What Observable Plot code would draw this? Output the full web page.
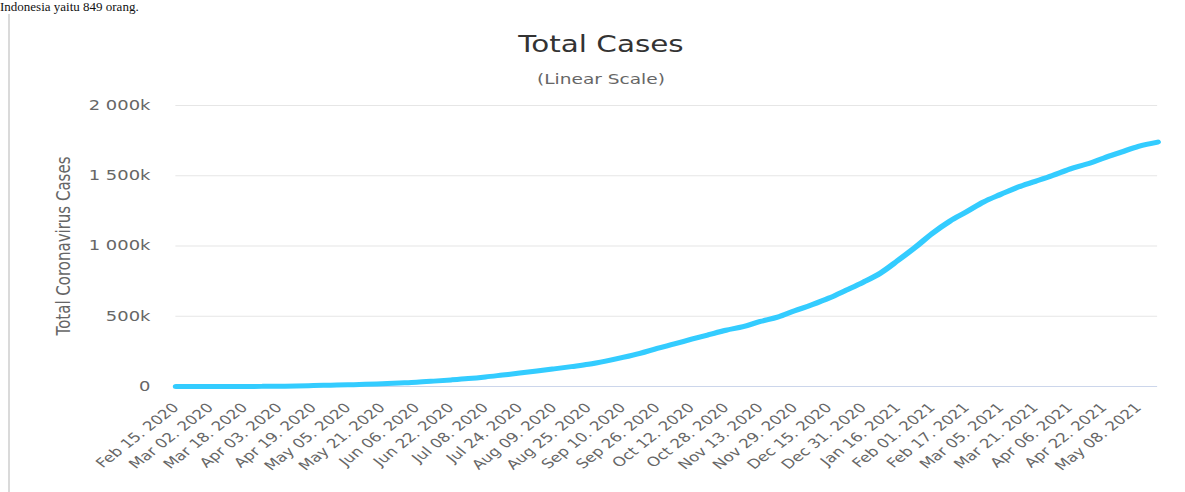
<!DOCTYPE html>
<html>
<head>
<meta charset="utf-8">
<script src="https://cdn.jsdelivr.net/npm/d3@7"></script>
<script src="https://cdn.jsdelivr.net/npm/@observablehq/plot@0.6"></script>
<style>
  html, body { margin: 0; padding: 0; background: #fff; overflow: hidden; }
  body { width: 1185px; height: 492px; position: relative; }
  #doc-text { position: absolute; left: 0px; top: 0px; font-family: "Liberation Serif", serif; font-size: 13px; line-height: 13px; color: #111; white-space: nowrap; }
  #doc-border { position: absolute; left: 8px; top: 14px; width: 2px; height: 478px; background: #dadada; }
  #chart { position: absolute; left: 0; top: 0; width: 926px; height: 492px; transform: scaleX(1.28); transform-origin: 0 0; }
</style>
</head>
<body>
<div id="doc-text">Indonesia yaitu 849 orang.</div>
<div id="doc-border"></div>
<div id="chart"></div>
<script>
// ---- data ----
const titleText = "Total Cases";
const subtitleText = "(Linear Scale)";
const yAxisTitle = "Total Coronavirus Cases";

const dates = [
  "2020-02-15","2020-03-02","2020-03-10","2020-03-18","2020-03-26","2020-04-03","2020-04-11","2020-04-19",
  "2020-04-27","2020-05-05","2020-05-13","2020-05-21","2020-05-29","2020-06-06","2020-06-14","2020-06-22",
  "2020-06-30","2020-07-08","2020-07-16","2020-07-24","2020-08-01","2020-08-09","2020-08-17","2020-08-25",
  "2020-09-02","2020-09-10","2020-09-18","2020-09-26","2020-10-04","2020-10-12","2020-10-20","2020-10-28",
  "2020-11-05","2020-11-13","2020-11-21","2020-11-29","2020-12-07","2020-12-15","2020-12-23","2020-12-31",
  "2021-01-08","2021-01-16","2021-01-24","2021-02-01","2021-02-09","2021-02-17","2021-02-25","2021-03-05",
  "2021-03-13","2021-03-21","2021-03-29","2021-04-06","2021-04-14","2021-04-22","2021-04-30","2021-05-08",
  "2021-05-17"
];
const totalCases = [
  0, 2, 19, 227, 893, 1986, 3842, 6575,
  9096, 12071, 15438, 20162, 25216, 30514, 38277, 46845,
  56385, 68079, 81668, 95418, 109936, 125396, 141370, 157859,
  180646, 207203, 236519, 271339, 303498, 336716, 368842, 400483,
  425796, 463007, 493308, 538883, 581550, 629429, 685639, 743198,
  808340, 896642, 989262, 1089308, 1174779, 1243646, 1314634, 1368069,
  1419455, 1460184, 1501835, 1547376, 1583182, 1626812, 1668368, 1709762,
  1739750
];

const xTickLabels = [
  "Feb 15. 2020","Mar 02. 2020","Mar 18. 2020","Apr 03. 2020","Apr 19. 2020","May 05. 2020",
  "May 21. 2020","Jun 06. 2020","Jun 22. 2020","Jul 08. 2020","Jul 24. 2020","Aug 09. 2020",
  "Aug 25. 2020","Sep 10. 2020","Sep 26. 2020","Oct 12. 2020","Oct 28. 2020","Nov 13. 2020",
  "Nov 29. 2020","Dec 15. 2020","Dec 31. 2020","Jan 16. 2021","Feb 01. 2021","Feb 17. 2021",
  "Mar 05. 2021","Mar 21. 2021","Apr 06. 2021","Apr 22. 2021","May 08. 2021"
];
const yTicks = [0, 500000, 1000000, 1500000, 2000000];
const yTickLabels = ["0", "500k", "1 000k", "1 500k", "2 000k"];

// ---- build ----
const parseISO = d3.utcParse("%Y-%m-%d");
const parseLabel = d3.utcParse("%b %d. %Y");
const rows = dates.map((d, i) => ({date: parseISO(d), cases: totalCases[i]}));
const xTickDates = xTickLabels.map(parseLabel);

const chart = Plot.plot({
  width: 926,
  height: 492,
  marginTop: 105,
  marginBottom: 106,
  marginLeft: 137,
  marginRight: 22,
  style: {fontFamily: "'DejaVu Sans', Verdana, sans-serif", background: "transparent", overflow: "visible"},
  x: {type: "utc", domain: [rows[0].date, rows[rows.length - 1].date], label: null},
  y: {domain: [0, 2000000], label: null},
  marks: [
    Plot.gridY(yTicks.slice(1), {stroke: "#e6e6e6", strokeOpacity: 1}),
    Plot.ruleY([0], {stroke: "#ccd6eb", strokeWidth: 1}),
    Plot.lineY(rows, {x: "date", y: "cases", stroke: "#33ccff", strokeWidth: 5, curve: "monotone-x", strokeLinejoin: "round", strokeLinecap: "round"}),
    Plot.axisX(xTickDates, {
      tickFormat: (d) => xTickLabels[xTickDates.findIndex(t => +t === +d)],
      tickRotate: -45, tickSize: 0, tickPadding: 19, fontSize: 13, fill: "#666", label: null
    }),
    Plot.axisY(yTicks, {
      tickFormat: (d) => yTickLabels[yTicks.indexOf(d)],
      tickSize: 0, tickPadding: 20, fontSize: 14, fill: "#666", label: null
    }),
    Plot.text([titleText], {frameAnchor: "top", lineAnchor: "middle", dx: -51.5, dy: -60.5, fontSize: 23, fill: "#333"}),
    Plot.text([subtitleText], {frameAnchor: "top", lineAnchor: "middle", dx: -51.5, dy: -26.5, fontSize: 14.5, fill: "#666"}),
    Plot.text([yAxisTitle], {frameAnchor: "left", textAnchor: "middle", lineAnchor: "middle", rotate: -90, dx: -87.5, fontSize: 15, fill: "#666"})
  ]
});
document.getElementById("chart").appendChild(chart);
</script>
</body>
</html>
